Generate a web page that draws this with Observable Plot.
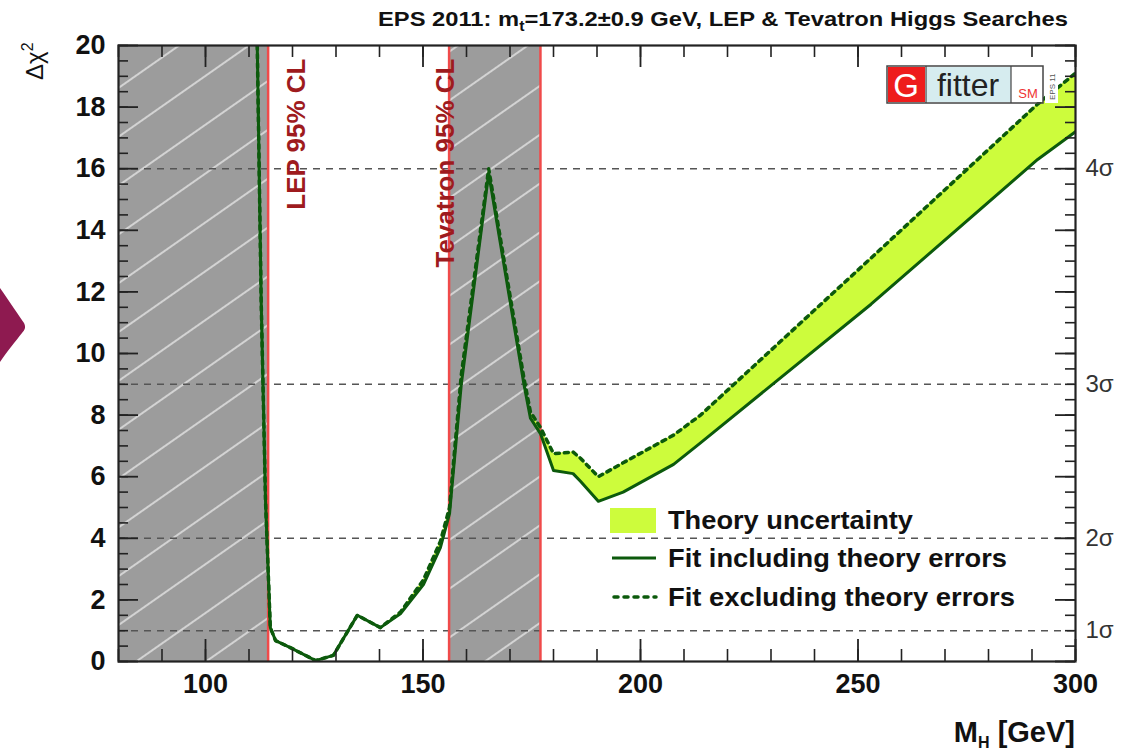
<!DOCTYPE html>
<html><head><meta charset="utf-8">
<script src="https://cdn.jsdelivr.net/npm/d3@7"></script>
<script src="https://cdn.jsdelivr.net/npm/@observablehq/plot@0.6"></script>
<style>
body{margin:0;background:#fff;}
#wrap{position:relative;width:1127px;height:755px;overflow:hidden;background:#fff;}
</style></head><body><div id="wrap"></div>
<script>
// ---- data ----
const massGeV  = [111.9, 112.8, 113.8, 114.9, 116.1, 119.5, 125.3, 129.4, 134.9, 140.2, 144.8, 150.1, 154.0, 156.1, 158.8, 165.1, 173.2, 174.7, 177.0, 180.0, 184.5, 186.2, 190.3, 196.0, 207.6, 213.8, 253.0, 291.3, 300.0];
const chi2Incl = [20, 11.7, 5.2, 1.1, 0.68, 0.45, 0.03, 0.2, 1.5, 1.1, 1.55, 2.5, 3.7, 4.8, 9.0, 15.85, 9.0, 7.9, 7.4, 6.2, 6.1, 5.85, 5.2, 5.5, 6.4, 7.1, 11.6, 16.3, 17.2];
const chi2Excl = [20, 11.7, 5.2, 1.1, 0.68, 0.45, 0.03, 0.2, 1.5, 1.1, 1.6, 2.65, 3.9, 5.0, 9.3, 16.0, 9.2, 8.1, 7.6, 6.75, 6.8, 6.6, 6.0, 6.45, 7.35, 8.0, 13.1, 18.1, 19.1];
const lepExcluded = [80, 114.4];
const tevExcluded = [156, 177];
const sigmaLevels = [1, 4, 9, 16];
const sigmaLabels = ["1σ", "2σ", "3σ", "4σ"];
const xMajorTicks = [100, 150, 200, 250, 300];
const xMinorTicks = [80, 90, 100, 110, 120, 130, 140, 150, 160, 170, 180, 190, 200, 210, 220, 230, 240, 250, 260, 270, 280, 290, 300];
const yMajorTicks = [0, 2, 4, 6, 8, 10, 12, 14, 16, 18, 20];
const yMinorTicks = d3.range(0, 20.01, 0.5);
const labels = {
  title: ["EPS 2011: m", "t", "=173.2±0.9 GeV, LEP & Tevatron Higgs Searches"],
  lep: "LEP 95% CL",
  tev: "Tevatron 95% CL",
  legend: ["Theory uncertainty", "Fit including theory errors", "Fit excluding theory errors"]
};

// ---- layout ----
const W = 1127, H = 755, mL = 118, mR = 52, mT = 45, mB = 94;
const plotW = W - mL - mR, plotH = H - mT - mB;
const FONT = "Liberation Sans, Arial, Helvetica, sans-serif";
const GREEN = "#0c5a0c", BAND = "#cdfc3c", RED = "#f04a4a", DARKRED = "#9e1b1e";

const rows = massGeV.map((m, i) => ({m, incl: chi2Incl[i], excl: chi2Excl[i]}));
const bands = [{x1: lepExcluded[0], x2: lepExcluded[1]}, {x1: tevExcluded[0], x2: tevExcluded[1]}];

const chart = Plot.plot({
  width: W, height: H, marginLeft: mL, marginRight: mR, marginTop: mT, marginBottom: mB,
  x: {domain: [80, 300]},
  y: {domain: [0, 20]},
  style: {fontFamily: FONT, background: "transparent", overflow: "visible"},
  marks: [
    Plot.rect(bands, {x1: "x1", x2: "x2", fill: "url(#hatchGray)"}),
    Plot.ruleY(sigmaLevels, {stroke: "#555", strokeWidth: 1.5, strokeDasharray: "7,6"}),
    Plot.areaY(rows, {x: "m", y1: "incl", y2: "excl", fill: BAND, clip: true}),
    Plot.ruleX([lepExcluded[1], tevExcluded[0], tevExcluded[1]], {stroke: RED, strokeWidth: 2.5}),
    Plot.line(rows, {x: "m", y: "excl", stroke: GREEN, strokeWidth: 3.5, strokeDasharray: "4,5", strokeLinecap: "round", clip: true}),
    Plot.line(rows, {x: "m", y: "incl", stroke: GREEN, strokeWidth: 3, clip: true}),
    // inside ticks, ROOT style
    Plot.tickX(xMinorTicks, {x: d => d, insetTop: plotH - 12, stroke: "#222", strokeWidth: 1.6}),
    Plot.tickX(xMinorTicks, {x: d => d, insetBottom: plotH - 12, stroke: "#222", strokeWidth: 1.6}),
    Plot.tickX(xMajorTicks, {x: d => d, insetTop: plotH - 22, stroke: "#222", strokeWidth: 1.8}),
    Plot.tickX(xMajorTicks, {x: d => d, insetBottom: plotH - 22, stroke: "#222", strokeWidth: 1.8}),
    Plot.tickY(yMinorTicks, {y: d => d, insetRight: plotW - 10, stroke: "#222", strokeWidth: 1.6}),
    Plot.tickY(yMinorTicks, {y: d => d, insetLeft: plotW - 10, stroke: "#222", strokeWidth: 1.6}),
    Plot.tickY(yMajorTicks, {y: d => d, insetRight: plotW - 20, stroke: "#222", strokeWidth: 1.8}),
    Plot.tickY(yMajorTicks, {y: d => d, insetLeft: plotW - 20, stroke: "#222", strokeWidth: 1.8}),
    Plot.frame({stroke: "#222", strokeWidth: 2.2}),
    Plot.axisX(xMajorTicks, {tickSize: 0, tickPadding: 12, fontSize: 27, fontWeight: "bold", fill: "#111", label: null}),
    Plot.axisY(yMajorTicks, {tickSize: 0, tickPadding: 13, fontSize: 27, fontWeight: "bold", fill: "#111", label: null}),
    Plot.text(sigmaLevels, {y: d => d, frameAnchor: "right", text: (d, i) => sigmaLabels[i], dx: 10, textAnchor: "start", fontSize: 24, fill: "#333"}),
    Plot.text([labels.lep], {x: () => lepExcluded[1], frameAnchor: "top", rotate: -90, textAnchor: "end", dx: 18, dy: 13, fill: DARKRED, fontSize: 26, fontWeight: "bold"}),
    Plot.text([labels.tev], {x: () => tevExcluded[0], frameAnchor: "top", rotate: -90, textAnchor: "end", dx: -14, dy: 13, fill: DARKRED, fontSize: 26, fontWeight: "bold"})
  ]
});

const svg = d3.select(chart);
// hatch pattern for excluded regions
const defs = svg.insert("defs", ":first-child");
const pat = defs.append("pattern").attr("id", "hatchGray").attr("patternUnits", "userSpaceOnUse")
  .attr("width", 40).attr("height", 40).attr("patternTransform", "rotate(-35)");
pat.append("rect").attr("width", 40).attr("height", 40).attr("fill", "#9c9c9c");
pat.append("line").attr("x1", 0).attr("y1", 20).attr("x2", 40).attr("y2", 20)
  .attr("stroke", "#e6e6e6").attr("stroke-width", 1.6);

const ov = svg.append("g").attr("font-family", FONT).attr("text-anchor", "start");
// title
const t = ov.append("text").attr("x", 378).attr("y", 26).attr("text-anchor", "start")
  .attr("font-size", 21).attr("font-weight", "bold").attr("fill", "#111")
  .attr("textLength", 690).attr("lengthAdjust", "spacingAndGlyphs");
t.append("tspan").text(labels.title[0]);
t.append("tspan").attr("font-size", 14).attr("dy", 5).text(labels.title[1]);
t.append("tspan").attr("dy", -5).text(labels.title[2]);

// y title
const yt = ov.append("text").attr("transform", "translate(43,80) rotate(-90)")
  .attr("font-size", 24).attr("fill", "#111");
yt.append("tspan").text("Δχ");
yt.append("tspan").attr("font-size", 16).attr("dy", -10).text("2");

// x title
const xt = ov.append("text").attr("x", 1075).attr("y", 742).attr("text-anchor", "end")
  .attr("font-size", 29).attr("font-weight", "bold").attr("fill", "#111");
xt.append("tspan").text("M");
xt.append("tspan").attr("font-size", 16).attr("dy", 6).text("H");
xt.append("tspan").attr("dy", -6).text(" [GeV]");

// legend
ov.append("rect").attr("x", 610).attr("y", 508).attr("width", 46).attr("height", 25).attr("fill", BAND);
ov.append("line").attr("x1", 612).attr("x2", 656).attr("y1", 558).attr("y2", 558).attr("stroke", GREEN).attr("stroke-width", 3);
ov.append("line").attr("x1", 614).attr("x2", 656).attr("y1", 597).attr("y2", 597).attr("stroke", GREEN).attr("stroke-width", 3.5).attr("stroke-dasharray", "4,6").attr("stroke-linecap", "round");
const legendLen = [245, 339, 347];
labels.legend.forEach((s, i) => {
  ov.append("text").attr("x", 668).attr("y", [520, 558, 597][i]).attr("dy", "0.36em")
    .attr("text-anchor", "start").attr("textLength", legendLen[i]).attr("lengthAdjust", "spacingAndGlyphs")
    .attr("font-size", 25).attr("font-weight", "bold").attr("fill", "#111").text(s);
});

// Gfitter logo
const lg = ov.append("g");
lg.append("rect").attr("x", 888).attr("y", 67).attr("width", 37).attr("height", 35).attr("fill", "#ee1c1c");
lg.append("rect").attr("x", 926).attr("y", 67).attr("width", 85).attr("height", 35).attr("fill", "#d6ecef");
lg.append("rect").attr("x", 1012).attr("y", 67).attr("width", 31).attr("height", 35).attr("fill", "#fff");
lg.append("rect").attr("x", 887).attr("y", 66).attr("width", 156).attr("height", 37).attr("fill", "none").attr("stroke", "#444").attr("stroke-width", 1.5);
lg.append("line").attr("x1", 926).attr("x2", 926).attr("y1", 66).attr("y2", 103).attr("stroke", "#444").attr("stroke-width", 1.2);
lg.append("line").attr("x1", 1011).attr("x2", 1011).attr("y1", 66).attr("y2", 103).attr("stroke", "#444").attr("stroke-width", 1.2);
lg.append("text").attr("x", 906).attr("y", 97).attr("text-anchor", "middle").attr("font-size", 33).attr("fill", "#fff").text("G");
lg.append("text").attr("x", 968).attr("y", 96).attr("text-anchor", "middle").attr("font-size", 32).attr("fill", "#222").text("fitter");
lg.append("text").attr("x", 1028).attr("y", 98).attr("text-anchor", "middle").attr("font-size", 13).attr("fill", "#e33").text("SM");
lg.append("rect").attr("x", 1045).attr("y", 66).attr("width", 13).attr("height", 37).attr("fill", "#fff");
lg.append("text").attr("transform", "translate(1055,100) rotate(-90)").attr("font-size", 8).attr("fill", "#555").text("EPS 11");

// decorative arrow at left edge
svg.append("path").attr("d", "M0,288 C10,302 19,316 24,323 C26,327 25,330 22,333 C15,342 8,350 0,362 Z").attr("fill", "#8e1a50");

document.getElementById("wrap").appendChild(chart);
</script></body></html>
